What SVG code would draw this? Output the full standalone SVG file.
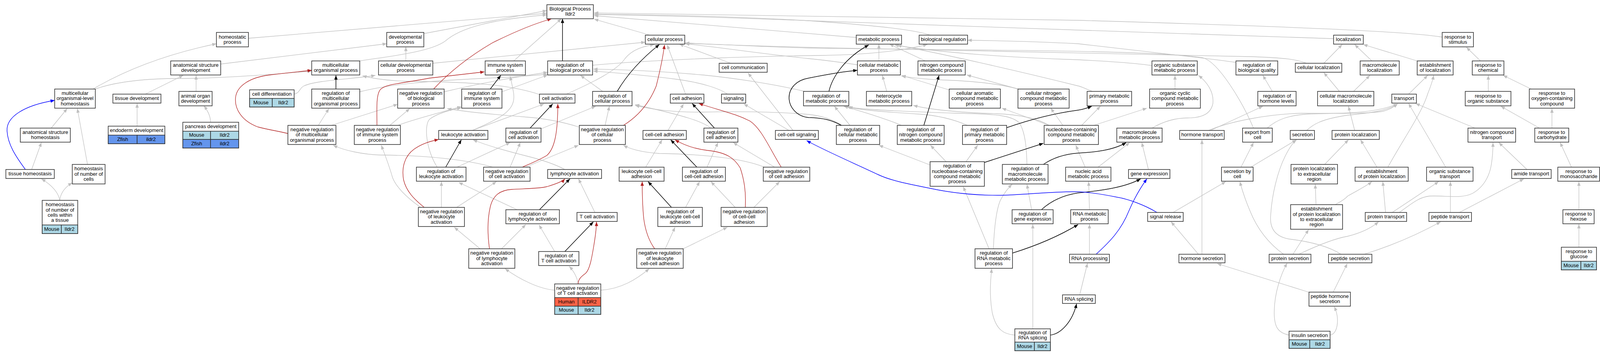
<svg xmlns="http://www.w3.org/2000/svg" width="4128" height="909" viewBox="0 0 4128 909">
<style>
.n rect{fill:#fff;stroke:#333;stroke-width:1.6}
.n rect.mo{fill:#add8e6}
.n rect.zf{fill:#6495ed}
.n rect.hu{fill:#ff6347}
text{font-family:"Liberation Sans",Arial,sans-serif;font-size:13px;fill:#000;text-anchor:middle}
.g{fill:none;stroke:#c0c0c0;stroke-width:1.3;marker-end:url(#ag)}
.k{fill:none;stroke:#000;stroke-width:1.5;marker-end:url(#ak)}
.r{fill:none;stroke:#b22222;stroke-width:1.3;marker-end:url(#ar)}
.b{fill:none;stroke:#0000ff;stroke-width:1.4;marker-end:url(#ab)}
</style>
<defs>
<marker id="ag" viewBox="0 0 10 8" refX="10" refY="4" markerWidth="11" markerHeight="8.5" markerUnits="userSpaceOnUse" orient="auto"><path d="M0,0 L10,4 L0,8 z" fill="#c0c0c0"/></marker>
<marker id="ak" viewBox="0 0 10 8" refX="10" refY="4" markerWidth="11" markerHeight="8.5" markerUnits="userSpaceOnUse" orient="auto"><path d="M0,0 L10,4 L0,8 z" fill="#000"/></marker>
<marker id="ar" viewBox="0 0 10 8" refX="10" refY="4" markerWidth="11" markerHeight="8.5" markerUnits="userSpaceOnUse" orient="auto"><path d="M0,0 L10,4 L0,8 z" fill="#b22222"/></marker>
<marker id="ab" viewBox="0 0 10 8" refX="10" refY="4" markerWidth="11" markerHeight="8.5" markerUnits="userSpaceOnUse" orient="auto"><path d="M0,0 L10,4 L0,8 z" fill="#0000ff"/></marker>
</defs>
<rect x="0" y="0" width="4128" height="909" fill="#fff"/>
<g id="connectors">
<path class="g" d="M636,98 L1400,34"/>
<path class="g" d="M1085,86 L1400,27"/>
<path class="g" d="M565,164 L990,112"/>
<path class="g" d="M921,156 C980,146 1100,135 1140,105 C1180,70 1260,50 1400,38"/>
<path class="g" d="M1039,156 L1039,120"/>
<path class="g" d="M1108,162 L1652,108"/>
<path class="g" d="M1315,156 L1437,48"/>
<path class="g" d="M238,228 C320,180 420,140 554,112"/>
<path class="g" d="M244,228 C300,208 380,201 460,201 C560,201 680,192 798,182"/>
<path class="g" d="M131,328 L172,278"/>
<path class="g" d="M224,421 L198,278"/>
<path class="g" d="M81,434 L106,365"/>
<path class="g" d="M153,513 C150,495 135,475 106,458"/>
<path class="g" d="M153,513 C155,495 165,480 185,468"/>
<path class="g" d="M372,241 L469,193"/>
<path class="g" d="M502,234 L502,193"/>
<path class="g" d="M351,323 L351,265"/>
<path class="g" d="M539,313 C539,300 533,285 522,271"/>
<path class="g" d="M753,241 C768,238 766,226 778,220 C810,205 900,203 961,193"/>
<path class="g" d="M815,321 L842,278"/>
<path class="g" d="M848,321 L1018,267"/>
<path class="g" d="M1018,321 C1060,305 1120,290 1181,273"/>
<path class="g" d="M998,321 L1049,278"/>
<path class="g" d="M1137,235 C1200,220 1300,200 1402,185"/>
<path class="g" d="M921,235 C1000,215 1100,207 1250,200 C1320,197 1370,193 1402,190"/>
<path class="g" d="M1285,235 L1402,192"/>
<path class="g" d="M1209,334 C1290,300 1320,280 1315,240 C1312,220 1308,205 1306,195"/>
<path class="g" d="M1209,334 L1393,266"/>
<path class="g" d="M1170,428 L1306,365"/>
<path class="g" d="M1119,428 C1090,380 1085,320 1100,305 C1120,290 1150,282 1181,276"/>
<path class="g" d="M1306,428 L1332,365"/>
<path class="g" d="M1262,428 C1200,410 1100,398 976,397 C930,396 880,385 853,372"/>
<path class="g" d="M1345,428 L1481,372"/>
<path class="g" d="M1446,434 C1420,420 1390,410 1350,400 C1290,385 1240,370 1211,358"/>
<path class="g" d="M1324,537 L1174,467"/>
<path class="g" d="M1284,637 L1346,575"/>
<path class="g" d="M1229,637 L1163,582"/>
<path class="g" d="M1130,531 L1130,465"/>
<path class="g" d="M1169,531 L1271,465"/>
<path class="g" d="M1077,531 C1040,505 1015,480 1005,455 C995,420 985,395 976,372"/>
<path class="g" d="M1420,644 L1380,576"/>
<path class="g" d="M1523,544 L1481,458"/>
<path class="g" d="M1480,727 C1478,712 1470,695 1457,682"/>
<path class="g" d="M1420,743 C1380,740 1330,715 1293,688"/>
<path class="g" d="M1538,743 C1590,740 1630,715 1662,688"/>
<path class="g" d="M1664,90 L1521,49"/>
<path class="g" d="M1517,167 C1700,150 2000,143 2100,142 C2250,140 2330,125 2374,114"/>
<path class="g" d="M1871,162 L1739,113"/>
<path class="g" d="M1450,241 C1520,210 1580,180 1600,150 C1620,125 1650,118 1675,114"/>
<path class="g" d="M1543,234 L1486,193"/>
<path class="g" d="M1549,321 L1560,272"/>
<path class="g" d="M1481,325 C1440,312 1400,304 1350,300 C1250,292 1180,285 1145,278"/>
<path class="g" d="M1385,330 L1525,272"/>
<path class="g" d="M1755,241 L1708,115"/>
<path class="g" d="M1862,241 C1845,228 1800,212 1732,203 C1650,192 1570,186 1519,182"/>
<path class="g" d="M2020,334 L1904,266"/>
<path class="g" d="M2030,334 L1915,187"/>
<path class="g" d="M1710,334 L1750,266"/>
<path class="g" d="M1820,328 C1800,312 1760,298 1626,268"/>
<path class="g" d="M1983,428 L1877,365"/>
<path class="g" d="M1957,428 C1900,405 1800,395 1688,393 C1640,390 1610,380 1596,372"/>
<path class="g" d="M1653,428 L1695,358"/>
<path class="g" d="M1810,428 L1838,365"/>
<path class="g" d="M1882,531 L1820,465"/>
<path class="g" d="M1930,531 L1996,465"/>
<path class="g" d="M1755,531 L1791,465"/>
<path class="g" d="M1703,637 L1728,582"/>
<path class="g" d="M1749,637 L1862,582"/>
<path class="g" d="M1381,242 C1300,215 1200,210 1042,208 C980,206 950,200 928,194"/>
<path class="g" d="M2192,96 L1521,40"/>
<path class="g" d="M2382,90 C2340,76 2250,66 2070,53 C1900,43 1700,38 1521,36"/>
<path class="g" d="M3414,99 C3000,86 2400,64 2070,53 C1900,46 1700,40 1521,37"/>
<path class="g" d="M3692,95 C3600,80 3300,68 2760,52 C2400,44 2000,38 1521,33"/>
<path class="g" d="M2250,156 L2250,113"/>
<path class="g" d="M2369,156 L2277,113"/>
<path class="g" d="M2949,168 C2900,160 2800,155 2760,153 C2600,148 2400,135 2290,115"/>
<path class="g" d="M2797,234 C2780,228 2770,222 2760,220 C2600,180 2400,135 2297,116"/>
<path class="g" d="M3164,160 C3100,150 3000,140 2760,112 C2650,106 2550,104 2477,103"/>
<path class="g" d="M2195,166 C2150,159 2100,153 2070,150 C1950,138 1850,122 1754,112"/>
<path class="g" d="M2270,234 L2259,193"/>
<path class="g" d="M2429,230 L2308,193"/>
<path class="g" d="M2607,228 C2560,215 2500,208 2420,205 C2360,203 2330,198 2308,195"/>
<path class="g" d="M2607,228 L2475,192"/>
<path class="g" d="M2686,321 C2650,300 2600,293 2550,291 C2450,288 2380,280 2338,270"/>
<path class="g" d="M2686,321 L2565,277"/>
<path class="g" d="M2721,321 L2690,277"/>
<path class="g" d="M2800,321 L2936,277"/>
<path class="g" d="M2769,321 L2817,272"/>
<path class="g" d="M3008,228 L3008,193"/>
<path class="g" d="M2949,328 C2980,310 3010,302 3040,302 C3080,302 3100,290 3105,265 C3108,235 3090,210 3068,193"/>
<path class="g" d="M2176,321 L2136,272"/>
<path class="g" d="M2308,321 C2270,305 2230,292 2160,272"/>
<path class="g" d="M2477,321 C2440,305 2400,295 2350,292 C2270,287 2200,282 2168,273"/>
<path class="g" d="M2629,421 C2628,380 2625,340 2610,315 C2590,295 2550,292 2450,290 C2300,285 2200,280 2172,274"/>
<path class="g" d="M2060,234 C1980,215 1880,200 1800,192 C1700,183 1600,178 1519,177"/>
<path class="g" d="M2155,321 C2130,305 2100,296 2070,293 C2000,287 1900,285 1800,287 C1720,288 1670,280 1626,270"/>
<path class="g" d="M2380,422 L2250,372"/>
<path class="g" d="M2422,414 L2382,372"/>
<path class="g" d="M2473,414 L2503,372"/>
<path class="g" d="M2778,428 L2754,372"/>
<path class="g" d="M2811,428 L2892,365"/>
<path class="g" d="M2940,434 L2923,365"/>
<path class="g" d="M2641,537 L2629,472"/>
<path class="g" d="M2789,537 L2787,465"/>
<path class="g" d="M2532,637 L2466,478"/>
<path class="g" d="M2543,637 C2545,590 2550,540 2560,515 C2570,495 2580,482 2591,472"/>
<path class="g" d="M2789,651 L2789,574"/>
<path class="g" d="M2764,755 L2784,674"/>
<path class="g" d="M2644,842 L2644,574"/>
<path class="g" d="M2598,858 C2570,856 2550,845 2540,800 C2533,760 2535,720 2539,688"/>
<path class="g" d="M3389,162 L3436,114"/>
<path class="g" d="M3345,162 C3320,152 3290,148 3200,145 C3000,138 2500,128 2070,123 C1950,120 1850,114 1754,110"/>
<path class="g" d="M3209,328 C3180,260 3120,160 3080,148 C3000,135 2800,131 2500,128 C2300,126 2100,124 1754,111"/>
<path class="g" d="M3512,156 L3468,114"/>
<path class="g" d="M3628,156 L3490,114"/>
<path class="g" d="M3429,234 L3389,186"/>
<path class="g" d="M3465,234 L3507,193"/>
<path class="g" d="M3257,234 L3233,193"/>
<path class="g" d="M3606,241 L3655,193"/>
<path class="g" d="M3468,334 L3452,272"/>
<path class="g" d="M3094,334 C3150,310 3250,292 3332,290 C3420,290 3500,292 3540,285 C3560,280 3570,272 3578,266"/>
<path class="g" d="M3099,334 L3233,272"/>
<path class="g" d="M3244,328 C3270,305 3300,295 3350,292 C3450,290 3520,290 3578,266"/>
<path class="g" d="M3345,334 C3360,320 3380,305 3450,295 C3500,290 3550,285 3578,266"/>
<path class="g" d="M3177,428 L3209,365"/>
<path class="g" d="M3202,428 L3319,358"/>
<path class="g" d="M3003,544 L3138,465"/>
<path class="g" d="M3068,651 L2998,568"/>
<path class="g" d="M3077,651 L3077,358"/>
<path class="g" d="M3286,651 C3250,625 3220,590 3200,540 C3185,505 3178,480 3174,465"/>
<path class="g" d="M3310,651 L3350,588"/>
<path class="g" d="M3325,651 C3380,625 3420,610 3450,605 C3490,595 3515,580 3529,568"/>
<path class="g" d="M3433,651 C3400,630 3350,618 3300,612 C3260,605 3250,580 3253,550 C3256,500 3270,440 3290,400 C3300,380 3310,365 3319,358"/>
<path class="g" d="M3492,651 C3560,630 3630,600 3688,568"/>
<path class="g" d="M3350,748 L3116,675"/>
<path class="g" d="M3413,748 L3449,675"/>
<path class="g" d="M3405,858 C3418,856 3424,840 3424,820 C3424,805 3420,795 3416,785"/>
<path class="g" d="M3300,858 C3270,852 3262,835 3262,800 C3262,750 3280,700 3295,674"/>
<path class="g" d="M3391,421 L3452,358"/>
<path class="g" d="M3369,524 L3367,472"/>
<path class="g" d="M3418,524 C3435,515 3445,508 3450,502 C3480,485 3500,475 3512,465"/>
<path class="g" d="M3525,428 L3483,358"/>
<path class="g" d="M3553,428 C3590,360 3640,290 3655,240 C3665,215 3668,205 3670,193"/>
<path class="g" d="M3547,544 L3540,465"/>
<path class="g" d="M3564,544 L3683,465"/>
<path class="g" d="M3582,544 C3610,525 3630,505 3660,502 C3700,500 3740,510 3770,495 C3805,475 3815,440 3818,420 C3822,395 3822,380 3822,365"/>
<path class="g" d="M3713,544 L3713,465"/>
<path class="g" d="M3736,544 L3901,458"/>
<path class="g" d="M3701,428 L3606,265"/>
<path class="g" d="M3776,328 L3624,265"/>
<path class="g" d="M3909,434 L3837,365"/>
<path class="g" d="M3790,156 L3754,121"/>
<path class="g" d="M3810,234 L3810,193"/>
<path class="g" d="M3920,228 L3848,193"/>
<path class="g" d="M3973,328 L3973,278"/>
<path class="g" d="M3941,328 L3842,272"/>
<path class="g" d="M4023,428 L3994,365"/>
<path class="g" d="M4042,537 L4042,465"/>
<path class="g" d="M4042,633 L4042,574"/>
<path class="k" d="M860,228 L860,193"/>
<path class="k" d="M1255,228 L1282,193"/>
<path class="k" d="M1141,428 L1181,358"/>
<path class="k" d="M1357,328 L1415,266"/>
<path class="k" d="M1380,538 L1459,458"/>
<path class="k" d="M1446,644 L1519,568"/>
<path class="k" d="M1440,156 L1440,48"/>
<path class="k" d="M1580,234 C1600,200 1630,160 1688,114"/>
<path class="k" d="M1829,328 L1772,265"/>
<path class="k" d="M1784,428 L1717,358"/>
<path class="k" d="M1719,531 L1659,465"/>
<path class="k" d="M2122,234 C2130,200 2160,150 2224,115"/>
<path class="k" d="M2154,321 C2130,308 2110,302 2070,301 C2040,298 2020,275 2020,250 C2020,225 2040,205 2070,200 C2120,190 2160,183 2195,180"/>
<path class="k" d="M2365,321 L2404,193"/>
<path class="k" d="M2577,327 C2640,305 2700,290 2760,282 C2775,280 2785,276 2795,272"/>
<path class="k" d="M2520,416 L2671,367"/>
<path class="k" d="M2671,421 C2690,408 2720,395 2760,392 C2800,390 2850,385 2883,365"/>
<path class="k" d="M2666,537 C2690,515 2720,500 2760,494 C2820,488 2880,480 2920,458"/>
<path class="k" d="M2592,648 C2650,630 2710,605 2760,575"/>
<path class="k" d="M2689,858 C2715,855 2745,825 2756,778"/>
<path class="r" d="M737,342 C710,335 690,333 660,325 C620,310 600,280 603,250 C606,220 640,198 690,192 C740,186 770,183 798,180"/>
<path class="r" d="M965,321 C965,280 962,240 975,228 C990,215 1020,215 1100,200 L1240,184"/>
<path class="r" d="M1110,228 C1150,185 1200,145 1260,110 C1320,80 1370,60 1412,48"/>
<path class="r" d="M1337,428 C1360,418 1380,410 1400,398 C1420,380 1428,340 1428,266"/>
<path class="r" d="M1596,321 C1630,300 1660,270 1680,220 C1690,180 1698,140 1701,115"/>
<path class="r" d="M1086,531 C1060,510 1040,490 1033,460 C1028,430 1035,400 1060,382 C1080,368 1100,362 1123,357"/>
<path class="r" d="M1253,637 C1248,600 1248,560 1255,530 C1262,500 1280,487 1310,485 C1340,483 1380,483 1400,478 C1420,472 1440,465 1446,458"/>
<path class="r" d="M2000,428 C1970,380 1950,330 1920,310 C1880,290 1850,285 1789,265"/>
<path class="r" d="M1908,531 C1910,490 1905,460 1895,430 C1880,405 1860,390 1810,385 C1770,380 1745,368 1728,358"/>
<path class="r" d="M1676,637 C1660,615 1652,590 1648,560 C1644,520 1644,480 1644,465"/>
<path class="r" d="M1480,727 C1480,715 1488,708 1499,700 C1510,690 1515,660 1520,630 C1525,600 1527,580 1527,568"/>
<path class="b" d="M65,434 C40,400 20,370 18,335 C16,300 60,270 140,257"/>
<path class="b" d="M2962,544 C2930,525 2890,510 2860,505 C2820,497 2790,492 2760,491 C2680,490 2620,500 2554,500 C2500,500 2440,495 2380,482 C2320,470 2280,462 2250,448 C2180,415 2110,385 2065,360"/>
<path class="b" d="M2806,651 C2840,620 2870,590 2890,540 C2905,505 2920,480 2936,458"/>
</g>
<g id="n_bp" class="n"><rect x="1400" y="12" width="119" height="36"/><text x="1459.5" y="27.05"><tspan x="1459.5">Biological Process</tspan><tspan x="1459.5" dy="13.3">Ildr2</tspan></text></g>
<g id="n_homeostatic" class="n"><rect x="554" y="83" width="82" height="37"/><text x="595" y="98.55"><tspan x="595">homeostatic</tspan><tspan x="595" dy="13.3">process</tspan></text></g>
<g id="n_devproc" class="n"><rect x="990" y="83" width="95" height="37"/><text x="1037.5" y="98.55"><tspan x="1037.5">developmental</tspan><tspan x="1037.5" dy="13.3">process</tspan></text></g>
<g id="n_respstim" class="n"><rect x="3692" y="83" width="80" height="37"/><text x="3732" y="98.55"><tspan x="3732">response to</tspan><tspan x="3732" dy="13.3">stimulus</tspan></text></g>
<g id="n_cellproc" class="n"><rect x="1652" y="90" width="101" height="23"/><text x="1702.5" y="105.2">cellular process</text></g>
<g id="n_metab" class="n"><rect x="2192" y="90" width="116" height="23"/><text x="2250" y="105.2">metabolic process</text></g>
<g id="n_bioreg" class="n"><rect x="2353" y="90" width="124" height="23"/><text x="2415" y="105.2">biological regulation</text></g>
<g id="n_local" class="n"><rect x="3414" y="90" width="76" height="23"/><text x="3452" y="105.2">localization</text></g>
<g id="n_asd" class="n"><rect x="437" y="156" width="128" height="36"/><text x="501" y="171.05"><tspan x="501">anatomical structure</tspan><tspan x="501" dy="13.3">development</tspan></text></g>
<g id="n_mop" class="n"><rect x="798" y="156" width="123" height="36"/><text x="859.5" y="171.05"><tspan x="859.5">multicellular</tspan><tspan x="859.5" dy="13.3">organismal process</tspan></text></g>
<g id="n_cdp" class="n"><rect x="969" y="156" width="139" height="36"/><text x="1038.5" y="171.05"><tspan x="1038.5">cellular developmental</tspan><tspan x="1038.5" dy="13.3">process</tspan></text></g>
<g id="n_isp" class="n"><rect x="1242" y="156" width="103" height="36"/><text x="1293.5" y="171.05"><tspan x="1293.5">immune system</tspan><tspan x="1293.5" dy="13.3">process</tspan></text></g>
<g id="n_rbp" class="n"><rect x="1402" y="156" width="115" height="36"/><text x="1459.5" y="171.05"><tspan x="1459.5">regulation of</tspan><tspan x="1459.5" dy="13.3">biological process</tspan></text></g>
<g id="n_cellcomm" class="n"><rect x="1841" y="162" width="123" height="23"/><text x="1902.5" y="177.2">cell communication</text></g>
<g id="n_cmp" class="n"><rect x="2195" y="156" width="110" height="36"/><text x="2250" y="171.05"><tspan x="2250">cellular metabolic</tspan><tspan x="2250" dy="13.3">process</tspan></text></g>
<g id="n_ncmp" class="n"><rect x="2350" y="156" width="121" height="36"/><text x="2410.5" y="171.05"><tspan x="2410.5">nitrogen compound</tspan><tspan x="2410.5" dy="13.3">metabolic process</tspan></text></g>
<g id="n_osmp" class="n"><rect x="2949" y="156" width="116" height="36"/><text x="3007" y="171.05"><tspan x="3007">organic substance</tspan><tspan x="3007" dy="13.3">metabolic process</tspan></text></g>
<g id="n_rbq" class="n"><rect x="3164" y="156" width="107" height="36"/><text x="3217.5" y="171.05"><tspan x="3217.5">regulation of</tspan><tspan x="3217.5" dy="13.3">biological quality</tspan></text></g>
<g id="n_cloc" class="n"><rect x="3316" y="162" width="119" height="23"/><text x="3375.5" y="177.2">cellular localization</text></g>
<g id="n_mloc" class="n"><rect x="3482" y="156" width="100" height="36"/><text x="3532" y="171.05"><tspan x="3532">macromolecule</tspan><tspan x="3532" dy="13.3">localization</tspan></text></g>
<g id="n_eloc" class="n"><rect x="3628" y="156" width="92" height="36"/><text x="3674" y="171.05"><tspan x="3674">establishment</tspan><tspan x="3674" dy="13.3">of localization</tspan></text></g>
<g id="n_rchem" class="n"><rect x="3769" y="156" width="81" height="36"/><text x="3809.5" y="171.05"><tspan x="3809.5">response to</tspan><tspan x="3809.5" dy="13.3">chemical</tspan></text></g>
<g id="n_molh" class="n"><rect x="140" y="228" width="104" height="49"/><text x="192" y="242.9"><tspan x="192">multicellular</tspan><tspan x="192" dy="13.3">organismal-level</tspan><tspan x="192" dy="13.3">homeostasis</tspan></text></g>
<g id="n_tdev" class="n"><rect x="289" y="241" width="123" height="23"/><text x="350.5" y="256.2">tissue development</text></g>
<g id="n_aod" class="n"><rect x="458" y="234" width="85" height="37"/><text x="500.5" y="249.55"><tspan x="500.5">animal organ</tspan><tspan x="500.5" dy="13.3">development</tspan></text></g>
<g id="n_celldiff" class="n"><rect x="639" y="230" width="114" height="44"/><text x="696" y="244.7">cell differentiation</text><rect class="mo" x="639" y="252" width="58" height="22"/><rect class="mo" x="697" y="252" width="56" height="22"/><text x="668" y="266.7">Mouse</text><text x="725" y="266.7">Ildr2</text></g>
<g id="n_rmop" class="n"><rect x="798" y="228" width="123" height="49"/><text x="859.5" y="242.9"><tspan x="859.5">regulation of</tspan><tspan x="859.5" dy="13.3">multicellular</tspan><tspan x="859.5" dy="13.3">organismal process</tspan></text></g>
<g id="n_nrbp" class="n"><rect x="1018" y="228" width="119" height="49"/><text x="1077.5" y="242.9"><tspan x="1077.5">negative regulation</tspan><tspan x="1077.5" dy="13.3">of biological</tspan><tspan x="1077.5" dy="13.3">process</tspan></text></g>
<g id="n_risp" class="n"><rect x="1182" y="228" width="103" height="49"/><text x="1233.5" y="242.9"><tspan x="1233.5">regulation of</tspan><tspan x="1233.5" dy="13.3">immune system</tspan><tspan x="1233.5" dy="13.3">process</tspan></text></g>
<g id="n_cact" class="n"><rect x="1381" y="241" width="91" height="23"/><text x="1426.5" y="256.2">cell activation</text></g>
<g id="n_rcp" class="n"><rect x="1517" y="234" width="101" height="37"/><text x="1567.5" y="249.55"><tspan x="1567.5">regulation of</tspan><tspan x="1567.5" dy="13.3">cellular process</tspan></text></g>
<g id="n_cadh" class="n"><rect x="1716" y="241" width="86" height="23"/><text x="1759" y="256.2">cell adhesion</text></g>
<g id="n_signal" class="n"><rect x="1847" y="241" width="62" height="23"/><text x="1878" y="256.2">signaling</text></g>
<g id="n_rmp" class="n"><rect x="2057" y="234" width="116" height="37"/><text x="2115" y="249.55"><tspan x="2115">regulation of</tspan><tspan x="2115" dy="13.3">metabolic process</tspan></text></g>
<g id="n_hmp" class="n"><rect x="2218" y="234" width="116" height="37"/><text x="2276" y="249.55"><tspan x="2276">heterocycle</tspan><tspan x="2276" dy="13.3">metabolic process</tspan></text></g>
<g id="n_camp" class="n"><rect x="2430" y="228" width="131" height="49"/><text x="2495.5" y="242.9"><tspan x="2495.5">cellular aromatic</tspan><tspan x="2495.5" dy="13.3">compound metabolic</tspan><tspan x="2495.5" dy="13.3">process</tspan></text></g>
<g id="n_cnmp" class="n"><rect x="2606" y="228" width="131" height="49"/><text x="2671.5" y="242.9"><tspan x="2671.5">cellular nitrogen</tspan><tspan x="2671.5" dy="13.3">compound metabolic</tspan><tspan x="2671.5" dy="13.3">process</tspan></text></g>
<g id="n_pmp" class="n"><rect x="2783" y="234" width="114" height="37"/><text x="2840" y="249.55"><tspan x="2840">primary metabolic</tspan><tspan x="2840" dy="13.3">process</tspan></text></g>
<g id="n_occmp" class="n"><rect x="2943" y="228" width="130" height="49"/><text x="3008" y="242.9"><tspan x="3008">organic cyclic</tspan><tspan x="3008" dy="13.3">compound metabolic</tspan><tspan x="3008" dy="13.3">process</tspan></text></g>
<g id="n_rhl" class="n"><rect x="3220" y="234" width="98" height="37"/><text x="3269" y="249.55"><tspan x="3269">regulation of</tspan><tspan x="3269" dy="13.3">hormone levels</tspan></text></g>
<g id="n_cmloc" class="n"><rect x="3373" y="234" width="144" height="37"/><text x="3445" y="249.55"><tspan x="3445">cellular macromolecule</tspan><tspan x="3445" dy="13.3">localization</tspan></text></g>
<g id="n_transport" class="n"><rect x="3563" y="241" width="63" height="23"/><text x="3594.5" y="256.2">transport</text></g>
<g id="n_rorg" class="n"><rect x="3751" y="234" width="117" height="37"/><text x="3809.5" y="249.55"><tspan x="3809.5">response to</tspan><tspan x="3809.5" dy="13.3">organic substance</tspan></text></g>
<g id="n_roxy" class="n"><rect x="3915" y="228" width="116" height="49"/><text x="3973" y="242.9"><tspan x="3973">response to</tspan><tspan x="3973" dy="13.3">oxygen-containing</tspan><tspan x="3973" dy="13.3">compound</tspan></text></g>
<g id="n_ash" class="n"><rect x="52" y="328" width="128" height="36"/><text x="116" y="343.05"><tspan x="116">anatomical structure</tspan><tspan x="116" dy="13.3">homeostasis</tspan></text></g>
<g id="n_endo" class="n"><rect x="277" y="323" width="145" height="45"/><text x="349.5" y="338.2">endoderm development</text><rect class="zf" x="277" y="346" width="74" height="22"/><rect class="zf" x="351" y="346" width="71" height="22"/><text x="314" y="360.7">Zfish</text><text x="386.5" y="360.7">ildr2</text></g>
<g id="n_panc" class="n"><rect x="468" y="313" width="143" height="66"/><text x="539.5" y="328.2">pancreas development</text><rect class="mo" x="468" y="336" width="71" height="21"/><rect class="mo" x="539" y="336" width="72" height="21"/><text x="503.5" y="350.2">Mouse</text><text x="575" y="350.2">Ildr2</text><rect class="zf" x="468" y="357" width="71" height="22"/><rect class="zf" x="539" y="357" width="72" height="22"/><text x="503.5" y="371.7">Zfish</text><text x="575" y="371.7">ildr2</text></g>
<g id="n_nrmop" class="n"><rect x="737" y="321" width="123" height="49"/><text x="798.5" y="335.9"><tspan x="798.5">negative regulation</tspan><tspan x="798.5" dy="13.3">of multicellular</tspan><tspan x="798.5" dy="13.3">organismal process</tspan></text></g>
<g id="n_nrisp" class="n"><rect x="907" y="321" width="118" height="49"/><text x="966" y="335.9"><tspan x="966">negative regulation</tspan><tspan x="966" dy="13.3">of immune system</tspan><tspan x="966" dy="13.3">process</tspan></text></g>
<g id="n_lact" class="n"><rect x="1123" y="334" width="126" height="23"/><text x="1186" y="349.2">leukocyte activation</text></g>
<g id="n_rca" class="n"><rect x="1295" y="328" width="90" height="36"/><text x="1340" y="343.05"><tspan x="1340">regulation of</tspan><tspan x="1340" dy="13.3">cell activation</tspan></text></g>
<g id="n_nrcp" class="n"><rect x="1483" y="321" width="118" height="49"/><text x="1542" y="335.9"><tspan x="1542">negative regulation</tspan><tspan x="1542" dy="13.3">of cellular</tspan><tspan x="1542" dy="13.3">process</tspan></text></g>
<g id="n_cca" class="n"><rect x="1646" y="334" width="111" height="23"/><text x="1701.5" y="349.2">cell-cell adhesion</text></g>
<g id="n_rcadh" class="n"><rect x="1802" y="328" width="87" height="36"/><text x="1845.5" y="343.05"><tspan x="1845.5">regulation of</tspan><tspan x="1845.5" dy="13.3">cell adhesion</tspan></text></g>
<g id="n_ccs" class="n"><rect x="1985" y="334" width="110" height="23"/><text x="2040" y="349.2">cell-cell signaling</text></g>
<g id="n_rcmp" class="n"><rect x="2141" y="321" width="111" height="49"/><text x="2196.5" y="335.9"><tspan x="2196.5">regulation of</tspan><tspan x="2196.5" dy="13.3">cellular metabolic</tspan><tspan x="2196.5" dy="13.3">process</tspan></text></g>
<g id="n_rncmp" class="n"><rect x="2297" y="321" width="120" height="49"/><text x="2357" y="335.9"><tspan x="2357">regulation of</tspan><tspan x="2357" dy="13.3">nitrogen compound</tspan><tspan x="2357" dy="13.3">metabolic process</tspan></text></g>
<g id="n_rpmp" class="n"><rect x="2464" y="321" width="113" height="49"/><text x="2520.5" y="335.9"><tspan x="2520.5">regulation of</tspan><tspan x="2520.5" dy="13.3">primary metabolic</tspan><tspan x="2520.5" dy="13.3">process</tspan></text></g>
<g id="n_nbcmp" class="n"><rect x="2673" y="321" width="139" height="49"/><text x="2742.5" y="335.9"><tspan x="2742.5">nucleobase-containing</tspan><tspan x="2742.5" dy="13.3">compound metabolic</tspan><tspan x="2742.5" dy="13.3">process</tspan></text></g>
<g id="n_mmp" class="n"><rect x="2859" y="328" width="116" height="36"/><text x="2917" y="343.05"><tspan x="2917">macromolecule</tspan><tspan x="2917" dy="13.3">metabolic process</tspan></text></g>
<g id="n_htrans" class="n"><rect x="3020" y="334" width="114" height="23"/><text x="3077" y="349.2">hormone transport</text></g>
<g id="n_export" class="n"><rect x="3181" y="328" width="76" height="36"/><text x="3219" y="343.05"><tspan x="3219">export from</tspan><tspan x="3219" dy="13.3">cell</tspan></text></g>
<g id="n_secr" class="n"><rect x="3303" y="334" width="62" height="23"/><text x="3334" y="349.2">secretion</text></g>
<g id="n_ploc" class="n"><rect x="3410" y="334" width="121" height="23"/><text x="3470.5" y="349.2">protein localization</text></g>
<g id="n_nctrans" class="n"><rect x="3758" y="328" width="122" height="36"/><text x="3819" y="343.05"><tspan x="3819">nitrogen compound</tspan><tspan x="3819" dy="13.3">transport</tspan></text></g>
<g id="n_rcarb" class="n"><rect x="3929" y="328" width="87" height="36"/><text x="3972.5" y="343.05"><tspan x="3972.5">response to</tspan><tspan x="3972.5" dy="13.3">carbohydrate</tspan></text></g>
<g id="n_thom" class="n"><rect x="15" y="434" width="124" height="23"/><text x="77" y="449.2">tissue homeostasis</text></g>
<g id="n_hnc" class="n"><rect x="185" y="421" width="84" height="50"/><text x="227" y="436.4"><tspan x="227">homeostasis</tspan><tspan x="227" dy="13.3">of number of</tspan><tspan x="227" dy="13.3">cells</tspan></text></g>
<g id="n_rla" class="n"><rect x="1066" y="428" width="127" height="36"/><text x="1129.5" y="443.05"><tspan x="1129.5">regulation of</tspan><tspan x="1129.5" dy="13.3">leukocyte activation</tspan></text></g>
<g id="n_nrca" class="n"><rect x="1238" y="428" width="119" height="36"/><text x="1297.5" y="443.05"><tspan x="1297.5">negative regulation</tspan><tspan x="1297.5" dy="13.3">of cell activation</tspan></text></g>
<g id="n_lymact" class="n"><rect x="1402" y="434" width="138" height="23"/><text x="1471" y="449.2">lymphocyte activation</text></g>
<g id="n_lcca" class="n"><rect x="1585" y="428" width="115" height="36"/><text x="1642.5" y="443.05"><tspan x="1642.5">leukocyte cell-cell</tspan><tspan x="1642.5" dy="13.3">adhesion</tspan></text></g>
<g id="n_rcca" class="n"><rect x="1747" y="428" width="110" height="36"/><text x="1802" y="443.05"><tspan x="1802">regulation of</tspan><tspan x="1802" dy="13.3">cell-cell adhesion</tspan></text></g>
<g id="n_nrcadh" class="n"><rect x="1954" y="428" width="119" height="36"/><text x="2013.5" y="443.05"><tspan x="2013.5">negative regulation</tspan><tspan x="2013.5" dy="13.3">of cell adhesion</tspan></text></g>
<g id="n_rnbcmp" class="n"><rect x="2381" y="414" width="139" height="63"/><text x="2450.5" y="429.25"><tspan x="2450.5">regulation of</tspan><tspan x="2450.5" dy="13.3">nucleobase-containing</tspan><tspan x="2450.5" dy="13.3">compound metabolic</tspan><tspan x="2450.5" dy="13.3">process</tspan></text></g>
<g id="n_rmmp" class="n"><rect x="2566" y="421" width="117" height="50"/><text x="2624.5" y="436.4"><tspan x="2624.5">regulation of</tspan><tspan x="2624.5" dy="13.3">macromolecule</tspan><tspan x="2624.5" dy="13.3">metabolic process</tspan></text></g>
<g id="n_namp" class="n"><rect x="2728" y="428" width="116" height="36"/><text x="2786" y="443.05"><tspan x="2786">nucleic acid</tspan><tspan x="2786" dy="13.3">metabolic process</tspan></text></g>
<g id="n_gexp" class="n"><rect x="2889" y="434" width="106" height="23"/><text x="2942" y="449.2">gene expression</text></g>
<g id="n_secrcell" class="n"><rect x="3127" y="428" width="81" height="36"/><text x="3167.5" y="443.05"><tspan x="3167.5">secretion by</tspan><tspan x="3167.5" dy="13.3">cell</tspan></text></g>
<g id="n_plocext" class="n"><rect x="3305" y="421" width="119" height="50"/><text x="3364.5" y="436.4"><tspan x="3364.5">protein localization</tspan><tspan x="3364.5" dy="13.3">to extracellular</tspan><tspan x="3364.5" dy="13.3">region</tspan></text></g>
<g id="n_eploc" class="n"><rect x="3469" y="428" width="136" height="36"/><text x="3537" y="443.05"><tspan x="3537">establishment</tspan><tspan x="3537" dy="13.3">of protein localization</tspan></text></g>
<g id="n_ostrans" class="n"><rect x="3652" y="428" width="119" height="36"/><text x="3711.5" y="443.05"><tspan x="3711.5">organic substance</tspan><tspan x="3711.5" dy="13.3">transport</tspan></text></g>
<g id="n_amide" class="n"><rect x="3870" y="434" width="101" height="23"/><text x="3920.5" y="449.2">amide transport</text></g>
<g id="n_rmono" class="n"><rect x="3988" y="428" width="107" height="36"/><text x="4041.5" y="443.05"><tspan x="4041.5">response to</tspan><tspan x="4041.5" dy="13.3">monosaccharide</tspan></text></g>
<g id="n_hnct" class="n"><rect x="108" y="513" width="91" height="85"/><text x="153.5" y="528.25"><tspan x="153.5">homeostasis</tspan><tspan x="153.5" dy="13.3">of number of</tspan><tspan x="153.5" dy="13.3">cells within</tspan><tspan x="153.5" dy="13.3">a tissue</tspan></text><rect class="mo" x="108" y="576" width="49" height="22"/><rect class="mo" x="157" y="576" width="42" height="22"/><text x="132.5" y="590.7">Mouse</text><text x="178" y="590.7">Ildr2</text></g>
<g id="n_nrla" class="n"><rect x="1071" y="531" width="118" height="49"/><text x="1130" y="545.9"><tspan x="1130">negative regulation</tspan><tspan x="1130" dy="13.3">of leukocyte</tspan><tspan x="1130" dy="13.3">activation</tspan></text></g>
<g id="n_rlymact" class="n"><rect x="1295" y="537" width="137" height="36"/><text x="1363.5" y="552.05"><tspan x="1363.5">regulation of</tspan><tspan x="1363.5" dy="13.3">lymphocyte activation</tspan></text></g>
<g id="n_tact" class="n"><rect x="1477" y="544" width="103" height="23"/><text x="1528.5" y="559.2">T cell activation</text></g>
<g id="n_rlcca" class="n"><rect x="1684" y="531" width="114" height="49"/><text x="1741" y="545.9"><tspan x="1741">regulation of</tspan><tspan x="1741" dy="13.3">leukocyte cell-cell</tspan><tspan x="1741" dy="13.3">adhesion</tspan></text></g>
<g id="n_nrcca" class="n"><rect x="1846" y="531" width="118" height="49"/><text x="1905" y="545.9"><tspan x="1905">negative regulation</tspan><tspan x="1905" dy="13.3">of cell-cell</tspan><tspan x="1905" dy="13.3">adhesion</tspan></text></g>
<g id="n_rgexp" class="n"><rect x="2591" y="537" width="105" height="36"/><text x="2643.5" y="552.05"><tspan x="2643.5">regulation of</tspan><tspan x="2643.5" dy="13.3">gene expression</tspan></text></g>
<g id="n_rnamp" class="n"><rect x="2741" y="537" width="96" height="36"/><text x="2789" y="552.05"><tspan x="2789">RNA metabolic</tspan><tspan x="2789" dy="13.3">process</tspan></text></g>
<g id="n_sigrel" class="n"><rect x="2938" y="544" width="91" height="23"/><text x="2983.5" y="559.2">signal release</text></g>
<g id="n_eplocext" class="n"><rect x="3304" y="524" width="133" height="63"/><text x="3370.5" y="539.25"><tspan x="3370.5">establishment</tspan><tspan x="3370.5" dy="13.3">of protein localization</tspan><tspan x="3370.5" dy="13.3">to extracellular</tspan><tspan x="3370.5" dy="13.3">region</tspan></text></g>
<g id="n_ptrans" class="n"><rect x="3495" y="544" width="106" height="23"/><text x="3548" y="559.2">protein transport</text></g>
<g id="n_peptrans" class="n"><rect x="3658" y="544" width="109" height="23"/><text x="3712.5" y="559.2">peptide transport</text></g>
<g id="n_rhex" class="n"><rect x="4001" y="537" width="80" height="36"/><text x="4041" y="552.05"><tspan x="4041">response to</tspan><tspan x="4041" dy="13.3">hexose</tspan></text></g>
<g id="n_nrlymact" class="n"><rect x="1200" y="637" width="118" height="50"/><text x="1259" y="652.4"><tspan x="1259">negative regulation</tspan><tspan x="1259" dy="13.3">of lymphocyte</tspan><tspan x="1259" dy="13.3">activation</tspan></text></g>
<g id="n_rtact" class="n"><rect x="1379" y="644" width="103" height="36"/><text x="1430.5" y="659.05"><tspan x="1430.5">regulation of</tspan><tspan x="1430.5" dy="13.3">T cell activation</tspan></text></g>
<g id="n_nrlcca" class="n"><rect x="1630" y="637" width="119" height="50"/><text x="1689.5" y="652.4"><tspan x="1689.5">negative regulation</tspan><tspan x="1689.5" dy="13.3">of leukocyte</tspan><tspan x="1689.5" dy="13.3">cell-cell adhesion</tspan></text></g>
<g id="n_rrnamp" class="n"><rect x="2496" y="637" width="96" height="50"/><text x="2544" y="652.4"><tspan x="2544">regulation of</tspan><tspan x="2544" dy="13.3">RNA metabolic</tspan><tspan x="2544" dy="13.3">process</tspan></text></g>
<g id="n_rnaproc" class="n"><rect x="2738" y="651" width="102" height="22"/><text x="2789" y="665.7">RNA processing</text></g>
<g id="n_hsecr" class="n"><rect x="3018" y="651" width="118" height="22"/><text x="3077" y="665.7">hormone secretion</text></g>
<g id="n_psecr" class="n"><rect x="3249" y="651" width="107" height="22"/><text x="3302.5" y="665.7">protein secretion</text></g>
<g id="n_pepsecr" class="n"><rect x="3401" y="651" width="111" height="22"/><text x="3456.5" y="665.7">peptide secretion</text></g>
<g id="n_rglu" class="n"><rect x="3997" y="633" width="90" height="58"/><text x="4042" y="648.05"><tspan x="4042">response to</tspan><tspan x="4042" dy="13.3">glucose</tspan></text><rect class="mo" x="3997" y="669" width="50" height="22"/><rect class="mo" x="4047" y="669" width="40" height="22"/><text x="4022" y="683.7">Mouse</text><text x="4067" y="683.7">Ildr2</text></g>
<g id="n_nrtact" class="n"><rect x="1420" y="727" width="118" height="78"/><text x="1479" y="741.55"><tspan x="1479">negative regulation</tspan><tspan x="1479" dy="13.3">of T cell activation</tspan></text><rect class="hu" x="1420" y="762" width="60" height="22"/><rect class="hu" x="1480" y="762" width="58" height="22"/><text x="1450" y="776.7">Human</text><text x="1509" y="776.7">ILDR2</text><rect class="mo" x="1420" y="784" width="60" height="21"/><rect class="mo" x="1480" y="784" width="58" height="21"/><text x="1450" y="798.2">Mouse</text><text x="1509" y="798.2">Ildr2</text></g>
<g id="n_phsecr" class="n"><rect x="3351" y="748" width="106" height="36"/><text x="3404" y="763.05"><tspan x="3404">peptide hormone</tspan><tspan x="3404" dy="13.3">secretion</tspan></text></g>
<g id="n_rnasplice" class="n"><rect x="2720" y="755" width="84" height="22"/><text x="2762" y="769.7">RNA splicing</text></g>
<g id="n_rrnasplice" class="n"><rect x="2598" y="842" width="91" height="56"/><text x="2643.5" y="856.05"><tspan x="2643.5">regulation of</tspan><tspan x="2643.5" dy="13.3">RNA splicing</tspan></text><rect class="mo" x="2598" y="876" width="50" height="22"/><rect class="mo" x="2648" y="876" width="41" height="22"/><text x="2623" y="890.7">Mouse</text><text x="2668.5" y="890.7">Ildr2</text></g>
<g id="n_insulin" class="n"><rect x="3300" y="848" width="105" height="44"/><text x="3352.5" y="862.7">insulin secretion</text><rect class="mo" x="3300" y="870" width="53" height="22"/><rect class="mo" x="3353" y="870" width="52" height="22"/><text x="3326.5" y="884.7">Mouse</text><text x="3379" y="884.7">Ildr2</text></g>
</svg>
